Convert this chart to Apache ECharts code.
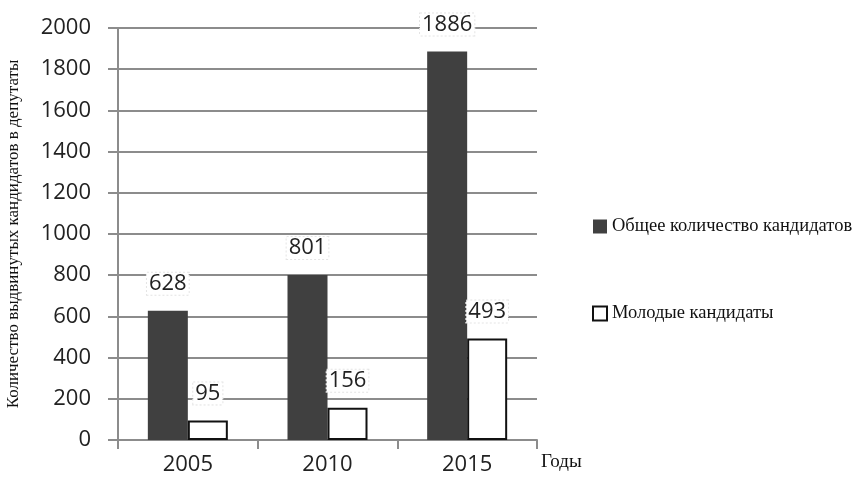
<!DOCTYPE html>
<html>
<head>
<meta charset="utf-8">
<script src="https://cdn.jsdelivr.net/npm/echarts@6/dist/echarts.min.js"></script>
<style>
  html, body { margin: 0; padding: 0; background: #fff; }
  #chart { width: 854px; height: 486px; }
</style>
</head>
<body>
<div id="chart"></div>
<script>
var years = ["2005", "2010", "2015"];
var total_candidates = [628, 801, 1886];
var young_candidates = [95, 156, 493];
var y_ticks = [0, 2000, 200]; // min, max, step

var numFont = "'Open Sans', sans-serif";
var serifFont = "'Liberation Serif', 'DejaVu Serif', serif";

var labelStyle = {
    show: true,
    position: "top",
    distance: 16,
    color: "#222",
    fontFamily: numFont,
    fontSize: 22,
    backgroundColor: "#fff",
    borderColor: "#e4e4e4",
    borderWidth: 1,
    borderType: "dotted",
    padding: [0, 2, 0, 2]
};

var option = {
    animation: false,
    grid: {
        left: 118,
        right: 317,
        top: 28,
        bottom: 46
    },
    legend: {
        orient: "vertical",
        left: 587,
        top: 212,
        itemGap: 68,
        itemWidth: 14,
        itemHeight: 14,
        icon: "rect",
        textStyle: {
            fontFamily: serifFont,
            fontSize: 18.5,
            color: "#111"
        },
        data: ["Общее количество кандидатов", "Молодые кандидаты"]
    },
    xAxis: {
        type: "category",
        data: years,
        name: "Годы",
        nameLocation: "end",
        nameGap: 4,
        nameTextStyle: {
            fontFamily: serifFont,
            fontSize: 19,
            color: "#111",
            verticalAlign: "top",
            padding: [13, 0, 0, 0]
        },
        axisLine: { lineStyle: { color: "#8c8c8c", width: 2 } },
        axisTick: { show: true, length: 9, alignWithLabel: false, lineStyle: { color: "#8c8c8c", width: 2 } },
        axisLabel: {
            color: "#222",
            fontFamily: numFont,
            fontSize: 22,
            margin: 14
        }
    },
    yAxis: {
        type: "value",
        min: y_ticks[0],
        max: y_ticks[1],
        interval: y_ticks[2],
        name: "Количество выдвинутых кандидатов в депутаты",
        nameLocation: "middle",
        nameRotate: 90,
        nameGap: 96,
        nameTextStyle: {
            fontFamily: serifFont,
            fontSize: 17,
            color: "#111"
        },
        axisLine: { show: true, lineStyle: { color: "#8c8c8c", width: 2 } },
        axisTick: { show: true, length: 10, lineStyle: { color: "#8c8c8c", width: 2 } },
        axisLabel: {
            color: "#222",
            fontFamily: numFont,
            fontSize: 22,
            margin: 27,
            formatter: function (v) { return String(v); }
        },
        splitLine: { show: true, lineStyle: { color: "#8c8c8c", width: 2 } }
    },
    series: [
        {
            name: "Общее количество кандидатов",
            type: "bar",
            data: total_candidates,
            barWidth: 40,
            barGap: "0%",
            itemStyle: { color: "#404040" },
            label: labelStyle
        },
        {
            name: "Молодые кандидаты",
            type: "bar",
            data: young_candidates,
            barWidth: 40,
            itemStyle: { color: "#fff", borderColor: "#111", borderWidth: 2 },
            label: labelStyle
        }
    ]
};

var myChart = echarts.init(document.getElementById("chart"));
myChart.setOption(option);
</script>
</body>
</html>
